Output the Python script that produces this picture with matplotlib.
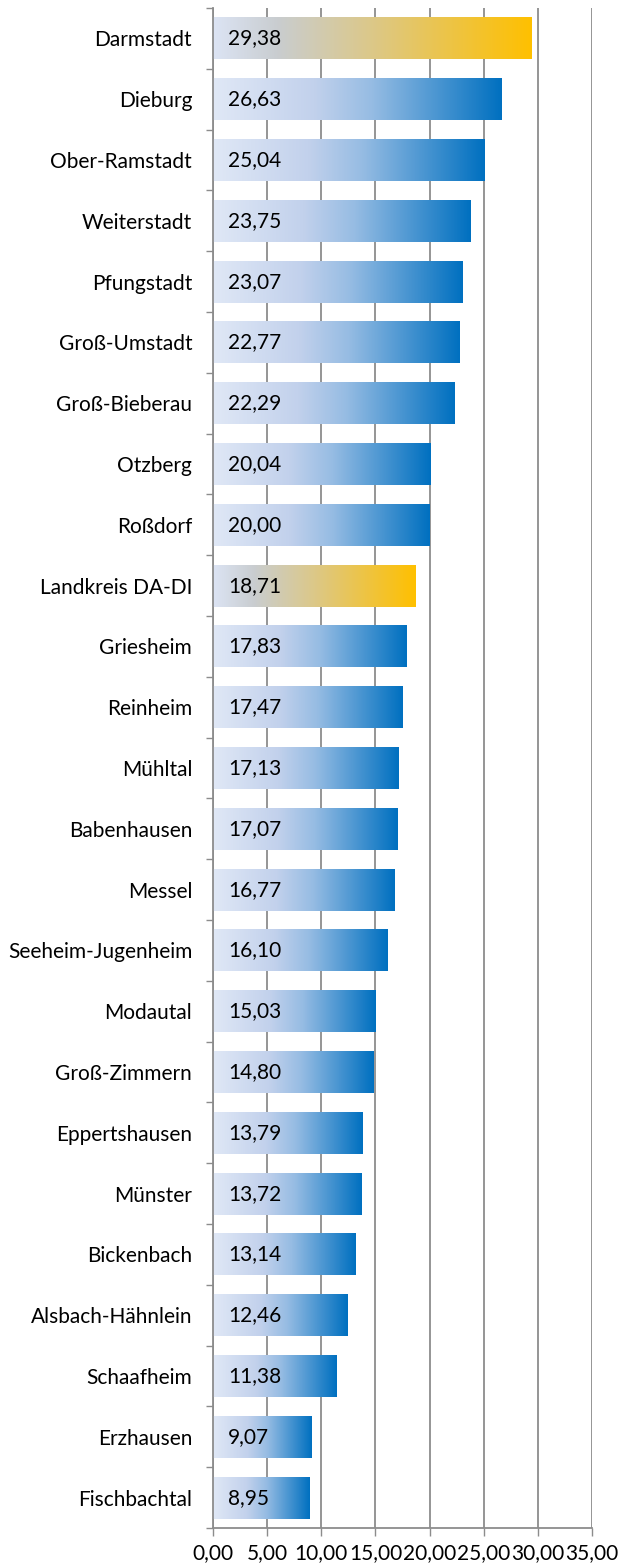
import numpy as np
import matplotlib
matplotlib.use("Agg")
import matplotlib.pyplot as plt
from matplotlib.colors import LinearSegmentedColormap

# values, top to bottom
gemeinden = ["Darmstadt", "Dieburg", "Ober-Ramstadt", "Weiterstadt", "Pfungstadt",
             "Groß-Umstadt", "Groß-Bieberau", "Otzberg", "Roßdorf", "Landkreis DA-DI",
             "Griesheim", "Reinheim", "Mühltal", "Babenhausen", "Messel",
             "Seeheim-Jugenheim", "Modautal", "Groß-Zimmern", "Eppertshausen", "Münster",
             "Bickenbach", "Alsbach-Hähnlein", "Schaafheim", "Erzhausen", "Fischbachtal"]
werte = [29.38, 26.63, 25.04, 23.75, 23.07, 22.77, 22.29, 20.04, 20.00, 18.71,
         17.83, 17.47, 17.13, 17.07, 16.77, 16.10, 15.03, 14.80, 13.79, 13.72,
         13.14, 12.46, 11.38, 9.07, 8.95]
hervorgehoben = ["Darmstadt", "Landkreis DA-DI"]
x_ticks = [0, 5, 10, 15, 20, 25, 30, 35]

blau = LinearSegmentedColormap.from_list("blau", [
    (0.0, "#e0e8f6"), (0.35, "#c2d1ec"), (0.55, "#96bce3"), (1.0, "#0070c0")])
gold = LinearSegmentedColormap.from_list("gold", [
    (0.0, "#dce4f4"), (0.2, "#c9cdd0"), (0.5, "#dcc888"), (1.0, "#ffc000")])

plt.rcParams["font.family"] = ["Lato", "DejaVu Sans"]
fs = 15
fig = plt.figure(figsize=(6.21, 15.68), dpi=100)
ax = fig.add_axes([213 / 621, 40 / 1568, 379 / 621, 1520 / 1568])

n = len(gemeinden)
pos = np.arange(n)[::-1]
hoehe = 0.69
grad = np.linspace(0, 1, 256).reshape(1, -1)

for name, wert, y in zip(gemeinden, werte, pos):
    cmap = gold if name in hervorgehoben else blau
    ax.imshow(grad, cmap=cmap, aspect="auto", interpolation="bilinear",
              extent=(0, wert, y - hoehe / 2, y + hoehe / 2), zorder=2)
    ax.text(1.4, y, f"{wert:.2f}".replace(".", ","), va="center", ha="left",
            fontsize=fs, color="black", zorder=3)

ax.set_xlim(0, 35)
ax.set_ylim(-0.5, n - 0.5)
ax.set_xticks(x_ticks)
ax.set_xticklabels([f"{t:.2f}".replace(".", ",") for t in x_ticks], fontsize=fs)
ax.set_yticks(pos)
ax.set_yticklabels(gemeinden, fontsize=fs)
ax.set_yticks(np.arange(n + 1) - 0.5, minor=True)
ax.tick_params(axis="y", which="major", length=0, pad=15)
ax.tick_params(axis="y", which="minor", length=5, color="#8c8c8c", width=1)
ax.tick_params(axis="x", length=6, color="#8c8c8c", width=1, pad=5)

ax.grid(axis="x", color="#8c8c8c", linewidth=1.3, zorder=0)
ax.set_axisbelow(True)
for s in ["top", "right"]:
    ax.spines[s].set_visible(False)
for s in ["left", "bottom"]:
    ax.spines[s].set_color("#8c8c8c")
    ax.spines[s].set_linewidth(1.3)

fig.savefig("out.png", dpi=100)
